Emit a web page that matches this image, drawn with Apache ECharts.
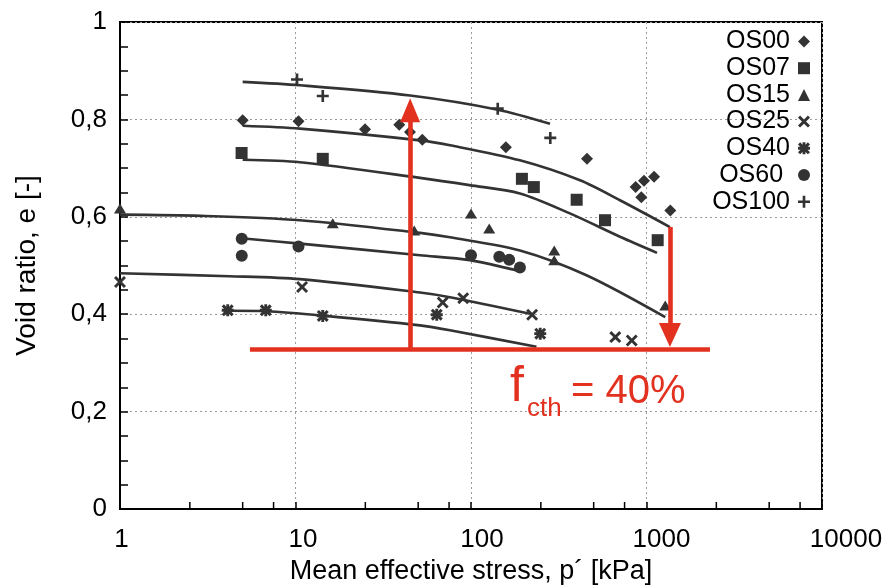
<!DOCTYPE html>
<html>
<head>
<meta charset="utf-8">
<script src="https://cdn.jsdelivr.net/npm/echarts@6/dist/echarts.min.js"></script>
<style>
  html, body { margin: 0; padding: 0; background: #fff; }
  #chart { width: 888px; height: 586px; }
</style>
</head>
<body>
<div id="chart"></div>
<script>
// Measured points [p' (kPa), e]
const os00Points = [[5, 0.798], [10.4, 0.796], [24.9, 0.780], [39, 0.789], [44.9, 0.774], [52.8, 0.758], [158, 0.743], [458, 0.719], [867, 0.661], [968, 0.674], [1104, 0.682], [934, 0.640], [1367, 0.613]];
const os07Points = [[4.93, 0.731], [14.3, 0.719], [195, 0.678], [228, 0.661], [400, 0.635], [580, 0.593], [1158, 0.552]];
const os15Points = [[1, 0.617], [16.3, 0.587], [47.5, 0.572], [100, 0.607], [127, 0.576], [298, 0.531], [298, 0.511], [1279, 0.418]];
const os25Points = [[1, 0.466], [10.9, 0.456], [69, 0.424], [90.3, 0.433], [223, 0.399], [664, 0.353], [824, 0.346]];
const os40Points = [[4.11, 0.408], [6.77, 0.408], [14.3, 0.3965], [63.8, 0.399], [248, 0.360]];
const os60Points = [[4.94, 0.555], [4.94, 0.520], [10.4, 0.539], [100, 0.521], [145, 0.518], [165, 0.512], [190, 0.496]];
const os100Points = [[10.2, 0.882], [14.3, 0.848], [142, 0.822], [283, 0.762]];

// Fitted compression curves
const os00Fit = [[5, 0.787], [10.6, 0.781], [51.2, 0.757], [75.9, 0.747], [190, 0.716], [418, 0.675], [706, 0.634], [1360, 0.579]];
const os07Fit = [[5, 0.717], [10.6, 0.712], [51.2, 0.680], [98, 0.665], [190, 0.648], [366, 0.607], [706, 0.559], [1148, 0.526]];
const os15Fit = [[1, 0.6045], [2.9, 0.602], [10.6, 0.593], [51.2, 0.567], [75.9, 0.558], [190, 0.531], [455, 0.480], [1279, 0.394]];
const os25Fit = [[1, 0.484], [4.2, 0.478], [10.6, 0.472], [51.2, 0.4445], [75.9, 0.435], [217, 0.401]];
const os40Fit = [[4.23, 0.407], [6.8, 0.406], [14.3, 0.397], [51.2, 0.377], [75.9, 0.367], [236, 0.333]];
const os60Fit = [[5.27, 0.555], [10.6, 0.545], [51.2, 0.521], [98.5, 0.511], [186, 0.489]];
const os100Fit = [[5, 0.877], [10.6, 0.870], [45, 0.849], [142, 0.820], [282, 0.791]];

// Threshold line (f_cth = 40%) and the two arrows
const thresholdE = 0.328;
const thresholdRange = [5.5, 2300];
const upArrow = { p: 45, from: 0.328, to: 0.819 };
const downArrow = { p: 1360, from: 0.579, to: 0.3575 };

// Axis tick labels and minor tick positions
const xTickLabels = ['1', '10', '100', '1000', '10000'];
const xLabelShift = [3, 15, 22, 30, 48];
const yTickLabels = ['0', '0,2', '0,4', '0,6', '0,8', '1'];
const xMinorTicks = [2.5, 5, 7.5, 25, 50, 75, 250, 500, 750, 2500, 5000, 7500];

const FONT = '"Liberation Sans", Arial, Helvetica, sans-serif';
const INK = '#333333';
const RED = '#e2311f';

// Filled marker outlines
const plusPath = 'path://M3.9,0H6.1V3.9H10V6.1H6.1V10H3.9V6.1H0V3.9H3.9Z';
const crossPath = 'path://M0,1.7L1.7,0L5,3.3L8.3,0L10,1.7L6.7,5L10,8.3L8.3,10L5,6.7L1.7,10L0,8.3L3.3,5Z';
const starPath = 'path://M0,1.8L1.8,0L5,3.2L8.2,0L10,1.8L6.8,5L10,8.2L8.2,10L5,6.8L1.8,10L0,8.2L3.2,5Z' +
                 'M3.8,0H6.2V3.8H10V6.2H6.2V10H3.8V6.2H0V3.8H3.8Z';

const groups = [
  { name: 'OS00', pts: os00Points, fit: os00Fit, symbol: 'diamond', size: 12 },
  { name: 'OS07', pts: os07Points, fit: os07Fit, symbol: 'rect', size: 12 },
  { name: 'OS15', pts: os15Points, fit: os15Fit, symbol: 'triangle', size: [12, 10] },
  { name: 'OS25', pts: os25Points, fit: os25Fit, symbol: crossPath, size: 12 },
  { name: 'OS40', pts: os40Points, fit: os40Fit, symbol: starPath, size: 12 },
  { name: 'OS60', pts: os60Points, fit: os60Fit, symbol: 'circle', size: 12 },
  { name: 'OS100', pts: os100Points, fit: os100Fit, symbol: plusPath, size: 12 }
];

const series = [];
groups.forEach(function (g) {
  series.push({
    name: g.name + ' fit',
    type: 'line',
    data: g.fit,
    smooth: 0.3,
    showSymbol: false,
    silent: true,
    lineStyle: { color: INK, width: 2.6 },
    z: 3
  });
});
groups.forEach(function (g) {
  series.push({
    name: g.name,
    type: 'scatter',
    data: g.pts,
    symbol: g.symbol,
    symbolSize: g.size,
    itemStyle: { color: INK, opacity: 1 },
    z: 4
  });
});

// Minor ticks on the logarithmic axis (2.5, 5, 7.5 per decade)
series.push({
  type: 'custom',
  silent: true,
  clip: false,
  z: 6,
  data: xMinorTicks.map(function (v) { return [v, 0]; }),
  renderItem: function (params, api) {
    const p = api.coord([api.value(0), 0]);
    return {
      type: 'line',
      shape: { x1: p[0], y1: p[1], x2: p[0], y2: p[1] - 7 },
      style: { stroke: '#000', lineWidth: 1.5 }
    };
  }
});

// Red threshold line and arrows
series.push({
  type: 'line',
  data: [],
  silent: true,
  z: 8,
  markLine: {
    silent: true,
    animation: false,
    symbol: ['none', 'none'],
    label: { show: false },
    lineStyle: { color: RED, width: 4.6, type: 'solid' },
    emphasis: { disabled: true },
    data: [
      [{ coord: [thresholdRange[0], thresholdE] }, { coord: [thresholdRange[1], thresholdE] }],
      [{ coord: [upArrow.p, upArrow.from] },
       { coord: [upArrow.p, upArrow.to], symbol: 'triangle', symbolSize: [20, 24] }],
      [{ coord: [downArrow.p, downArrow.from] },
       { coord: [downArrow.p, downArrow.to], symbol: 'triangle', symbolSize: [22, 24] }]
    ]
  }
});

const rich = {};
xLabelShift.forEach(function (s, i) {
  rich['t' + i] = { fontSize: 26, fontFamily: FONT, color: '#000', padding: [0, 0, 0, s] };
});

const chart = echarts.init(document.getElementById('chart'), null, { renderer: 'canvas' });
chart.setOption({
  animation: false,
  backgroundColor: '#fff',
  grid: {
    left: 120, right: 66, top: 22, bottom: 77,
    outerBoundsMode: 'none',
    containLabel: false,
    show: true, borderColor: '#000', borderWidth: 2, backgroundColor: 'transparent'
  },
  legend: {
    data: groups.map(function (g) { return g.name; }),
    orient: 'vertical',
    align: 'right',
    right: 73,
    top: 24,
    itemWidth: 12,
    itemHeight: 12,
    itemGap: 1.7,
    selectedMode: false,
    formatter: function (name) { return name === 'OS60' ? 'OS60 ' : name; },
    textStyle: { fontSize: 25, fontFamily: FONT, color: '#000', padding: [0, 3, 0, 0] }
  },
  xAxis: {
    type: 'log',
    logBase: 10,
    min: 1,
    max: 10000,
    name: 'Mean effective stress, p\u00b4 [kPa]',
    nameLocation: 'middle',
    nameGap: 44,
    nameTextStyle: { fontSize: 27, fontFamily: FONT, color: '#000' },
    axisLine: { show: true, lineStyle: { color: '#000', width: 2 } },
    axisTick: { show: true, inside: true, length: 7, lineStyle: { color: '#000', width: 1.5 } },
    minorTick: { show: false },
    axisLabel: {
      margin: 18,
      fontSize: 26,
      fontFamily: FONT,
      color: '#000',
      formatter: function (v) {
        const i = Math.round(Math.log10(v));
        return '{t' + i + '|' + xTickLabels[i] + '}';
      },
      rich: rich
    },
    splitLine: { show: true, lineStyle: { color: '#9a9a9a', width: 1, type: [2, 3] } }
  },
  yAxis: {
    type: 'value',
    min: 0,
    max: 1,
    interval: 0.2,
    name: 'Void ratio, e [-]',
    nameLocation: 'middle',
    nameGap: 79,
    nameTextStyle: { fontSize: 28, fontFamily: FONT, color: '#000' },
    axisLine: { show: true, lineStyle: { color: '#000', width: 2 } },
    axisTick: { show: true, inside: true, length: 8, lineStyle: { color: '#000', width: 1.5 } },
    minorTick: { show: true, splitNumber: 4, length: 8, lineStyle: { color: '#000', width: 1.5 } },
    axisLabel: {
      margin: 13,
      fontSize: 26,
      fontFamily: FONT,
      color: '#000',
      formatter: function (v) { return yTickLabels[Math.round(v / 0.2)]; }
    },
    splitLine: { show: true, lineStyle: { color: '#9a9a9a', width: 1, type: [2, 3] } }
  },
  graphic: [
    { type: 'text', left: 510, top: 362, z: 10, silent: true,
      style: { text: 'f', fontSize: 50, fontFamily: FONT, fill: RED } },
    { type: 'text', left: 527, top: 396, z: 10, silent: true,
      style: { text: 'cth', fontSize: 26, fontFamily: FONT, fill: RED } },
    { type: 'text', left: 571, top: 372, z: 10, silent: true,
      style: { text: '= 40%', fontSize: 40, fontFamily: FONT, fill: RED } }
  ],
  series: series
});
</script>
</body>
</html>
